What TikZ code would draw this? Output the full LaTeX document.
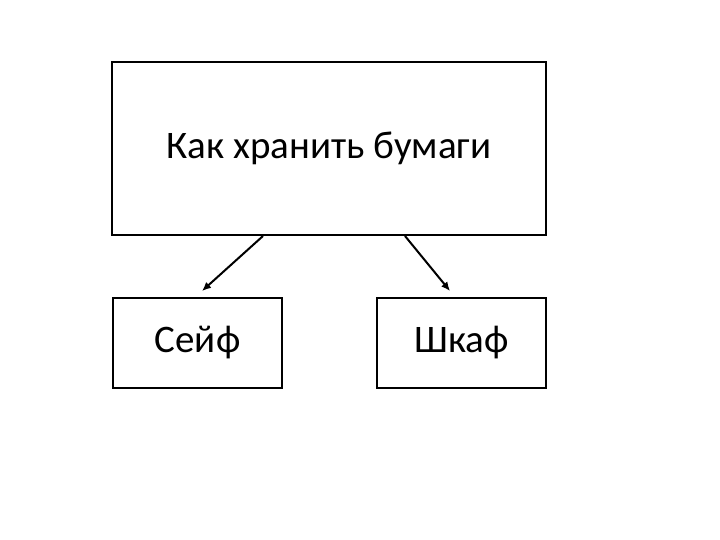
\documentclass[tikz,border=0pt]{standalone}
\usepackage{fontspec}
\setmainfont{Carlito}
\usetikzlibrary{arrows.meta}

\begin{document}
\begin{tikzpicture}[x=1pt,y=-1pt,
	box/.style={draw=black,line width=2pt,inner sep=0pt,font=\fontsize{39}{45}\selectfont},
	arr/.style={line width=2pt,-{Latex[length=9pt,width=8pt]}}]
	\useasboundingbox (0,0) rectangle (720,540);
	\node[box,minimum width=434pt,minimum height=173pt] (top) at (329,148.5) {Как хранить бумаги};
	\node[box,minimum width=169pt,minimum height=90pt] (safe) at (197.5,342.5) {Сейф};
	\node[box,minimum width=169pt,minimum height=90pt] (cabinet) at (461.5,342.5) {Шкаф};
	\draw[arr] ([xshift=-66pt]top.south) -- ([xshift=4.5pt,yshift=5.5pt]safe.north);
	\draw[arr] ([xshift=76pt]top.south) -- ([xshift=-11.5pt,yshift=5.5pt]cabinet.north);
\end{tikzpicture}
\end{document}
